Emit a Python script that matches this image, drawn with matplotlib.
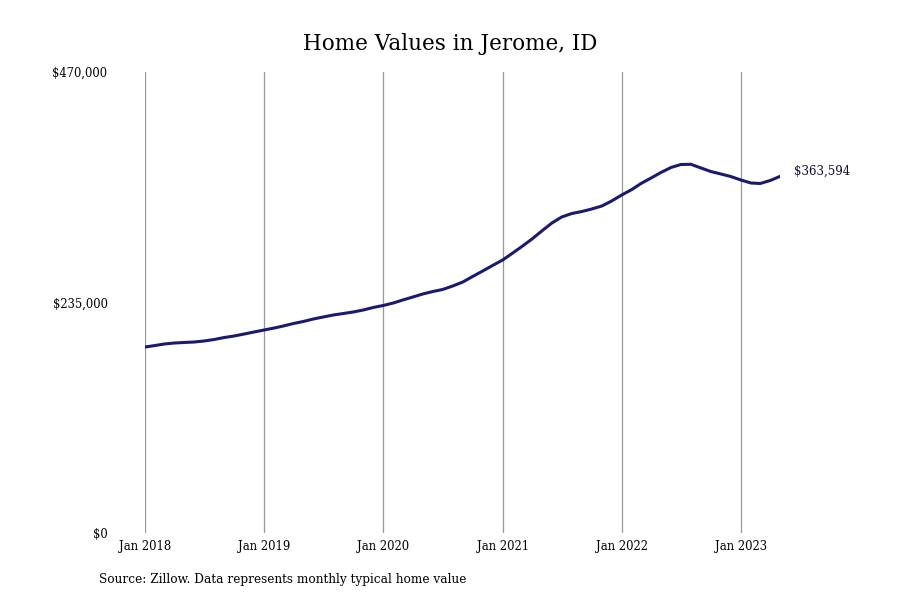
import matplotlib
matplotlib.use("Agg")
import matplotlib.pyplot as plt
import pandas as pd

plt.rcParams['font.family'] = ['DejaVu Serif']

dates = pd.date_range("2018-01-01", "2023-05-01", freq="MS")
values = [
    189600, 191160, 192690, 193710, 194220, 194730, 195750, 197280, 199320, 200840, 202880, 204920,
    206960, 209000, 211040, 213590, 215630, 218180, 220220, 222250, 223780, 225310, 227350, 229900,
    231940, 234490, 237550, 240610, 243660, 246210, 248250, 251820, 255900, 261510, 267110, 272720,
    278330, 285470, 292090, 299740, 307900, 316050, 322170, 325740, 327780, 330320, 333380, 338480,
    344600, 350200, 356320, 361930, 367540, 372630, 375690, 375900, 372120, 368550, 366010, 363460,
    359890, 356830, 356320, 359380, 363594,
]
title = "Home Values in Jerome, ID"
source = "Source: Zillow. Data represents monthly typical home value"
ytick_vals = [0, 235000, 470000]
ytick_labels = ["$0", "$235,000", "$470,000"]
xtick_dates = pd.to_datetime(["2018-01-01", "2019-01-01", "2020-01-01", "2021-01-01", "2022-01-01", "2023-01-01"])
xtick_labels = ["Jan 2018", "Jan 2019", "Jan 2020", "Jan 2021", "Jan 2022", "Jan 2023"]

fig = plt.figure(figsize=(9, 6), dpi=100)
ax = fig.add_axes([145/900, 1-533/600, (780-145)/900, (533-72)/600])
ax.plot(dates, values, color="#1b1a6f", lw=2.2, solid_capstyle="round")
ax.set_ylim(0, 470000)
ax.set_xlim(dates[0], dates[-1])
ax.set_yticks(ytick_vals)
ax.set_yticklabels(ytick_labels, fontsize=8.3)
ax.set_xticks(xtick_dates)
ax.set_xticklabels(xtick_labels, fontsize=8.4)
ax.tick_params(axis='y', length=0, pad=27)
ax.tick_params(axis='x', length=0, pad=5)
for s in ax.spines.values():
    s.set_visible(False)
ax.grid(axis='x', color="#999999", lw=0.9)
ax.grid(axis='y', visible=False)
ax.set_axisbelow(True)
ax.annotate(f"${values[-1]:,}", xy=(dates[-1], values[-1]), xytext=(10, 3.8),
            textcoords="offset points", fontsize=8.6, color="#111133", va="center", ha="left",
            annotation_clip=False)
fig.text(0.5, 1-44/600, title, ha="center", va="center", fontsize=15.5)
fig.text(99/900, 1-580/600, source, ha="left", va="center", fontsize=8.7)
fig.savefig("out.png", dpi=100)
